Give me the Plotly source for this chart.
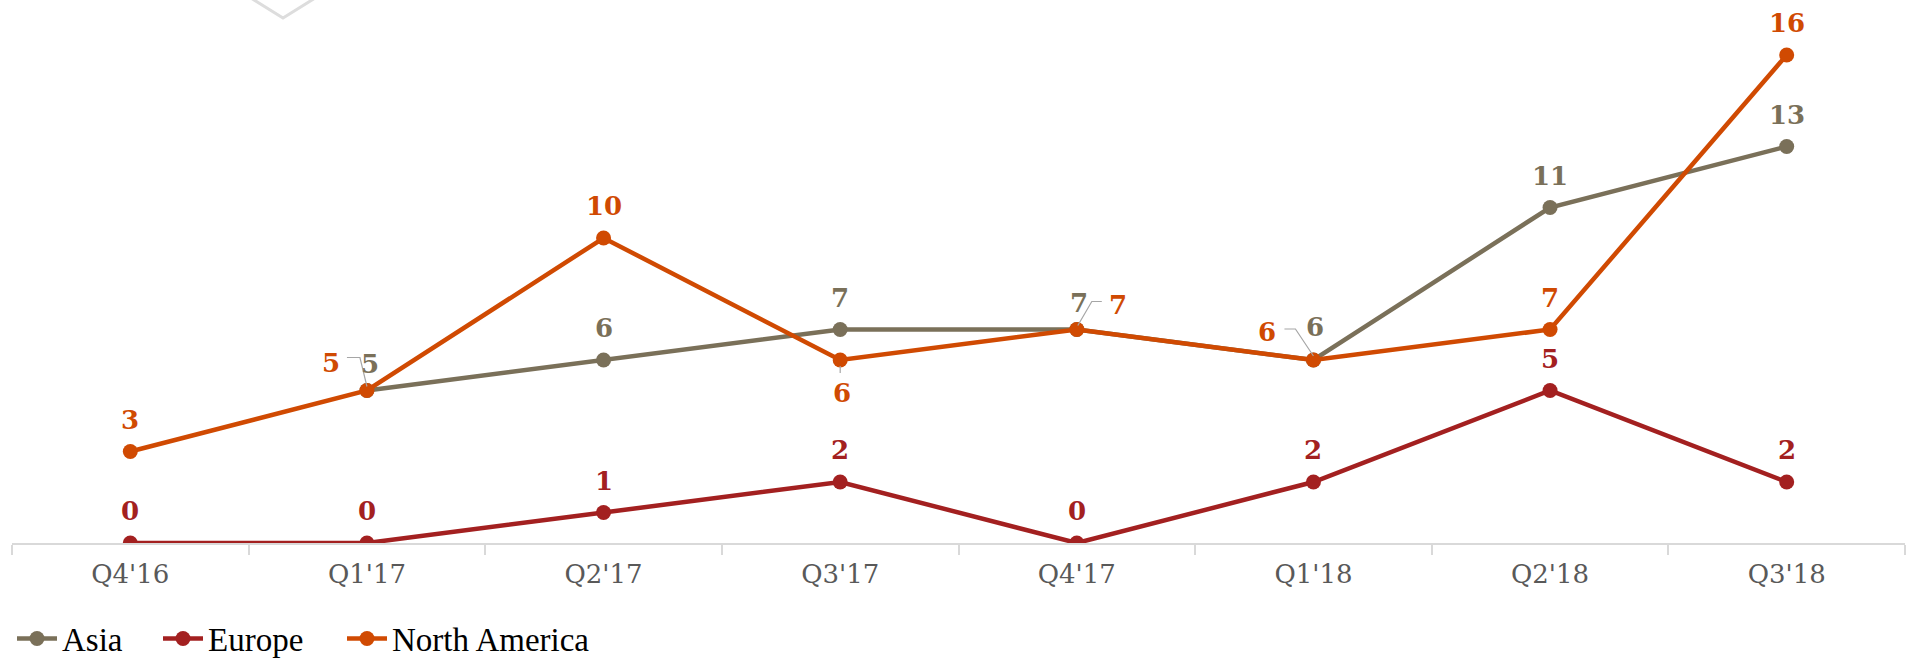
import plotly.graph_objects as go

categories = ["Q4'16", "Q1'17", "Q2'17", "Q3'17", "Q4'17", "Q1'18", "Q2'18", "Q3'18"]
asia = [None, 5, 6, 7, 7, 6, 11, 13]
europe = [0, 0, 1, 2, 0, 2, 5, 2]
north_america = [3, 5, 10, 6, 7, 6, 7, 16]

series = [
    ("Asia", asia, "#7a7059", "legend"),
    ("Europe", europe, "#a32020", "legend2"),
    ("North America", north_america, "#d04a02", "legend3"),
]

# label offsets (dx, dy) in screen pixels, dy positive = down
default_offset = (0, -32)
label_offsets = {
    ("Asia", 1): (3, -27),
    ("North America", 1): (-36, -28),
    ("Asia", 4): (2, -27),
    ("North America", 4): (41, -25),
    ("North America", 3): (2, 33),
    ("North America", 5): (-46, -28),
    ("Asia", 5): (2, -33),
}
# leader line paths (pixel offsets from the point, y positive = up)
leaders = {
    ("Asia", 1): "M0,4 L-7,33 L-20,33",
    ("Asia", 4): "M1,4 L15,28 L25,28",
    ("Asia", 5): "M0,4 L-18,31 L-29,31",
    ("North America", 3): "M0,-6 L0,-13",
}

fig = go.Figure()
annotations = []
shapes = []
for name, vals, color, leg in series:
    fig.add_trace(go.Scatter(
        x=categories, y=vals, name=name, mode="lines+markers",
        line=dict(color=color, width=4.5),
        marker=dict(color=color, size=15),
        connectgaps=False, legend=leg, hoverinfo="skip",
    ))
    for i, v in enumerate(vals):
        if v is None:
            continue
        dx, dy = label_offsets.get((name, i), default_offset)
        annotations.append(dict(
            x=categories[i], y=v, xref="x", yref="y", text=str(v),
            showarrow=False, xshift=dx, yshift=-dy,
            xanchor="center", yanchor="middle",
            font=dict(family="DejaVu Serif", size=26, color=color, weight="bold"),
        ))
        if (name, i) in leaders:
            shapes.append(dict(
                type="path", xref="x", yref="y",
                xsizemode="pixel", ysizemode="pixel",
                xanchor=categories[i], yanchor=v,
                path=leaders[(name, i)],
                line=dict(color="#a6a6a6", width=1.2), layer="above",
            ))

# decorative chevron at top
shapes.append(dict(
    type="path", xref="paper", yref="paper",
    xsizemode="pixel", ysizemode="pixel",
    xanchor=(283 - 12) / 1893, yanchor=1 - 18 / 543,
    path="M-45,28 L0,0 L45,28",
    line=dict(color="#dddddd", width=3), layer="above",
))

legend_font = dict(family="Liberation Serif", size=33, color="#000000")
legend_common = dict(
    orientation="h", xanchor="left", y=-0.176, yanchor="middle",
    font=legend_font, itemwidth=40, bgcolor="rgba(0,0,0,0)",
)

fig.update_layout(
    width=1909, height=660,
    margin=dict(l=12, r=4, t=0, b=117, autoexpand=False),
    paper_bgcolor="white", plot_bgcolor="white",
    showlegend=True,
    legend=dict(x=0.0, **legend_common),
    legend2=dict(x=(158 - 12) / 1893, **legend_common),
    legend3=dict(x=(342 - 12) / 1893, **legend_common),
    annotations=annotations,
    shapes=shapes,
    xaxis=dict(
        type="category", categoryorder="array", categoryarray=categories,
        range=[-0.5, len(categories) - 0.5],
        showline=True, linecolor="#d9d9d9", linewidth=2,
        ticks="outside", tickson="boundaries", ticklen=10, tickcolor="#d9d9d9",
        tickwidth=1.5, showgrid=False,
        tickfont=dict(family="DejaVu Serif", size=26, color="#595959"),
        ticklabelstandoff=7,
    ),
    yaxis=dict(
        range=[0, 543 / 30.5], visible=False, showgrid=False, zeroline=False,
    ),
)

fig.write_html(
    "out.html",
    config={"displayModeBar": False},
    post_script="document.body.style.margin='0px';document.body.style.overflow='hidden';",
)
